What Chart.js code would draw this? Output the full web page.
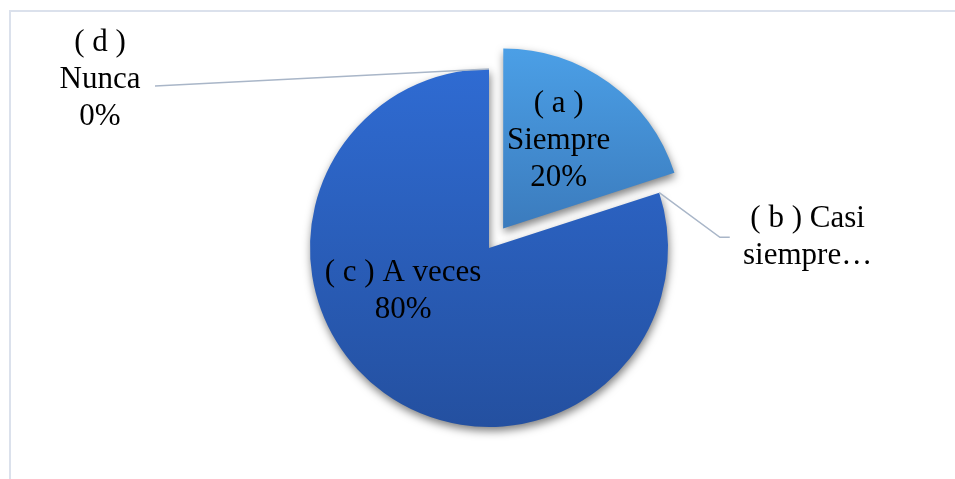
<!DOCTYPE html>
<html>
<head>
<meta charset="utf-8">
<script src="https://cdn.jsdelivr.net/npm/chart.js@4"></script>
<style>
  body { margin: 0; background: #fff; }
  #wrap { position: relative; width: 955px; height: 479px; }
</style>
</head>
<body>
<div id="wrap"><canvas id="canvas"></canvas></div>
<script>
// datos del grafico
const categories = ['( a ) Siempre', '( b ) Casi siempre', '( c ) A veces', '( d ) Nunca'];
const values = [20, 0, 80, 0];
// texto de las etiquetas tal como se ve (b sale cortada)
const labelLines = [['( a )', 'Siempre'], ['( b ) Casi', 'siempre…'], ['( c ) A veces'], ['( d )', 'Nunca']];
const showPct = [true, false, true, true];

const R = 179;
const FONT = '31px "Liberation Serif", "Times New Roman", serif';
const LINE_H = 37;

// posicion de etiquetas, en fracciones del radio desde el centro
const labelPos = [
    { inside: true, tx: 0.31, ty: -0.49 },
    { inside: false, ex: 1.29, ey: -0.06, lx: 1.345, tx: 1.78, ty: -0.06 },
    { inside: true, tx: -0.48, ty: 0.24 },
    { inside: false, ex: -1.866, ey: -0.905, lx: -1.866, tx: -2.173, ty: -0.94 }
];

const gradStops = [
    ['#4b9fe6', '#3b7bbd'],
    ['#2f6bd2', '#2450a0'],
    ['#2f6bd2', '#2450a0'],
    ['#2f6bd2', '#2450a0']
];

function sliceColor(c) {
    const chart = c.chart;
    const area = chart.chartArea;
    const s = gradStops[c.dataIndex];
    if (!area) return s[1];
    const cy = (area.top + area.bottom) / 2;
    const g = chart.ctx.createLinearGradient(0, cy - R, 0, cy + R);
    if (c.dataIndex === 0) {
        g.addColorStop(0, s[0]);
        g.addColorStop(0.5, s[1]);
        g.addColorStop(1, s[1]);
    } else {
        g.addColorStop(0, s[0]);
        g.addColorStop(1, s[1]);
    }
    return g;
}

const framePlugin = {
    id: 'frame',
    beforeDraw(chart) {
        const ctx = chart.ctx;
        ctx.save();
        ctx.strokeStyle = '#dbe1ec';
        ctx.lineWidth = 2;
        ctx.beginPath();
        ctx.moveTo(10, 479);
        ctx.lineTo(10, 11);
        ctx.lineTo(955, 11);
        ctx.stroke();
        ctx.restore();
    }
};

const shadowPlugin = {
    id: 'shadow',
    beforeDatasetDraw(chart) {
        const ctx = chart.ctx;
        ctx.save();
        ctx.shadowColor = 'rgba(0,0,0,0.5)';
        ctx.shadowBlur = 8;
        ctx.shadowOffsetX = 1;
        ctx.shadowOffsetY = 4;
    },
    afterDatasetDraw(chart) {
        chart.ctx.restore();
    }
};

const labelPlugin = {
    id: 'sliceLabels',
    afterDatasetsDraw(chart) {
        const ctx = chart.ctx;
        const meta = chart.getDatasetMeta(0);
        const total = values.reduce((a, b) => a + b, 0);
        ctx.save();
        ctx.font = FONT;
        ctx.fillStyle = '#000';
        ctx.textAlign = 'center';
        ctx.textBaseline = 'middle';
        meta.data.forEach((arc, i) => {
            const p = arc.getProps(['x', 'y', 'startAngle', 'endAngle', 'outerRadius'], true);
            const off = (chart.data.datasets[0].offset[i] || 0) / 4;
            const mid = (p.startAngle + p.endAngle) / 2;
            const cx = p.x + (values[i] > 0 ? Math.cos(mid) * off : 0);
            const cy = p.y + (values[i] > 0 ? Math.sin(mid) * off : 0);
            const pos = labelPos[i];
            const lines = labelLines[i].slice();
            if (showPct[i]) lines.push(Math.round(values[i] / total * 100) + '%');
            if (!pos.inside) {
                const sx = cx + Math.cos(p.startAngle) * R;
                const sy = cy + Math.sin(p.startAngle) * R;
                const ex = cx + pos.ex * R, ey = cy + pos.ey * R;
                ctx.strokeStyle = '#a9b6c8';
                ctx.lineWidth = 1.5;
                ctx.beginPath();
                ctx.moveTo(sx, sy);
                ctx.lineTo(ex, ey);
                ctx.lineTo(cx + pos.lx * R, ey);
                ctx.stroke();
            }
            const tx = cx + pos.tx * R;
            const ty = cy + pos.ty * R;
            const y0 = ty - (lines.length - 1) * LINE_H / 2;
            lines.forEach((t, k) => ctx.fillText(t, tx, y0 + k * LINE_H));
        });
        ctx.restore();
    }
};

const config = {
    type: 'pie',
    data: {
        labels: categories,
        datasets: [{
            data: values,
            backgroundColor: sliceColor,
            borderWidth: 0,
            offset: [96, 0, 0, 0],
            radius: R
        }]
    },
    options: {
        responsive: true,
        maintainAspectRatio: false,
        animation: false,
        layout: { padding: { left: 23, top: 17 } },
        plugins: {
            legend: { display: false },
            tooltip: { enabled: false }
        }
    },
    plugins: [framePlugin, shadowPlugin, labelPlugin]
};

window.myPie = new Chart(document.getElementById('canvas').getContext('2d'), config);
</script>
</body>
</html>
